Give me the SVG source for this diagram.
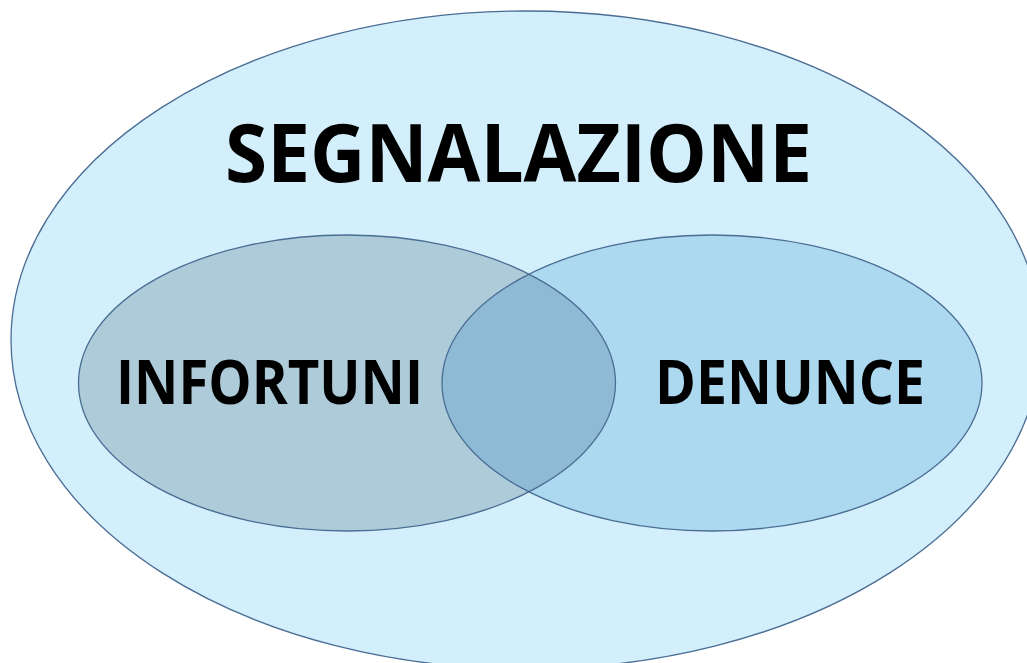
<svg xmlns="http://www.w3.org/2000/svg" width="1027" height="663" viewBox="0 0 1027 663">
<style>
.edge{stroke:#4a6d94;stroke-width:1.3;}
.lbl{font-family:"Open Sans","Liberation Sans",sans-serif;font-weight:bold;fill:#000;}
</style>
<defs>
<clipPath id="clipL"><ellipse cx="347" cy="383" rx="268.5" ry="148"/></clipPath>
</defs>
<rect width="1027" height="663" fill="#ffffff"/>
<g id="segnalazione">
<ellipse cx="526" cy="340" rx="515" ry="329" fill="#d2effb" class="edge"/>
<text class="lbl" x="225" y="182" font-size="80" textLength="587" lengthAdjust="spacingAndGlyphs">SEGNALAZIONE</text>
</g>
<g id="infortuni">
<ellipse cx="347" cy="383" rx="268.5" ry="148" fill="#adcbd8"/>
</g>
<g id="denunce">
<ellipse cx="712" cy="383" rx="270" ry="148" fill="#acd8f0"/>
</g>
<g id="overlap">
<ellipse cx="712" cy="383" rx="270" ry="148" fill="#8fbad6" clip-path="url(#clipL)"/>
</g>
<g id="outlines" fill="none">
<ellipse cx="347" cy="383" rx="268.5" ry="148" class="edge"/>
<ellipse cx="712" cy="383" rx="270" ry="148" class="edge"/>
</g>
<g id="labels">
<text class="lbl" x="116" y="404" font-size="61" textLength="307" lengthAdjust="spacingAndGlyphs">INFORTUNI</text>
<text class="lbl" x="655" y="404" font-size="61" textLength="270" lengthAdjust="spacingAndGlyphs">DENUNCE</text>
</g>
</svg>
